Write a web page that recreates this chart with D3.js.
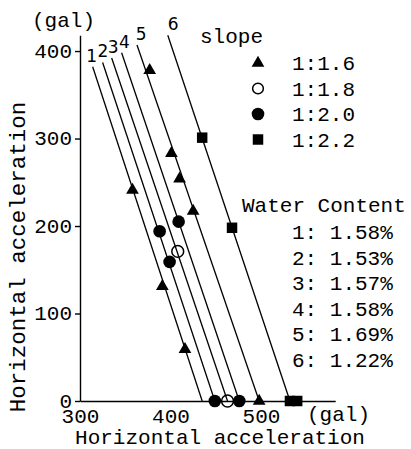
<!DOCTYPE html>
<html>
<head>
<meta charset="utf-8">
<script src="https://cdn.jsdelivr.net/npm/d3@7"></script>
<style>
    body { margin: 0; background: #fff; }
    text { font-family: "Liberation Mono", "Courier New", monospace; fill: #000; }
</style>
</head>
<body>
<div id="chartDiv"></div>
<script>

// line number -> top end of each line [x, y] and x where it meets the axis (gal)
var lineNames = ["1", "2", "3", "4", "5", "6"];
var lineTops = [[314, 382], [325, 387], [335, 392], [346, 398], [363, 407], [397, 418]];
var lineBases = [435, 449, 463, 476, 498, 532];

// slope series, points [x, y] in gal
var slopeNames = ["1:1.6", "1:1.8", "1:2.0", "1:2.2"];
var slope16 = [[358, 241], [391, 131], [416, 59], [377, 378], [401, 283], [410, 254], [425, 217], [498, 0]];
var slope18 = [[408, 171], [463, 0]];
var slope20 = [[388, 194], [399, 159], [449, 0], [409, 205], [476, 0]];
var slope22 = [[435, 301], [468, 198], [532, 0], [540, 0]];

var waterContent = ["1.58%", "1.53%", "1.57%", "1.58%", "1.69%", "1.22%"];

var xTicks = [300, 400, 500];
var yTicks = [0, 100, 200, 300, 400];

var width = 411,
    height = 449;

var svg = d3.select("#chartDiv").append("svg")
    .attr("width", width)
    .attr("height", height);

var x = d3.scaleLinear()
    .domain([300, 582])
    .range([80, 335.2]);

var y = d3.scaleLinear()
    .domain([0, 418])
    .range([401, 35.3]);

var xAxis = d3.axisBottom(x)
    .tickValues(xTicks)
    .tickSize(0)
    .tickPadding(7)
    .tickSizeOuter(0);

var yAxis = d3.axisLeft(y)
    .tickValues(yTicks)
    .tickSize(5)
    .tickPadding(3)
    .tickSizeOuter(0);

svg.append("g")
    .attr("class", "x axis")
    .attr("transform", "translate(0," + y(0) + ")")
    .call(xAxis);

svg.append("g")
    .attr("class", "y axis")
    .attr("transform", "translate(" + x(300) + ",0)")
    .call(yAxis);

svg.selectAll(".axis path, .axis line")
    .attr("stroke", "#000")
    .attr("stroke-width", 1.4);

svg.selectAll(".axis text")
    .style("font-family", "Liberation Mono, monospace")
    .style("font-size", "21px")
    .attr("fill", "#000");

svg.selectAll(".y.axis text")
    .attr("dy", "0.3em");

// unit labels
svg.append("text")
    .attr("x", 32)
    .attr("y", 27)
    .style("font-size", "21px")
    .text("(gal)");

svg.append("text")
    .attr("x", 307)
    .attr("y", 421)
    .style("font-size", "21px")
    .text("(gal)");

// axis titles
svg.append("text")
    .attr("x", 220)
    .attr("y", 444)
    .attr("text-anchor", "middle")
    .style("font-size", "21px")
    .text("Horizontal acceleration");

svg.append("text")
    .attr("transform", "translate(25,257) rotate(-90)")
    .attr("text-anchor", "middle")
    .style("font-size", "22.5px")
    .text("Horizontal acceleration");

// lines
svg.selectAll(".wline")
    .data(lineTops)
    .enter().append("line")
    .attr("class", "wline")
    .attr("x1", function (d) {
        return x(d[0]);
    })
    .attr("y1", function (d) {
        return y(d[1]);
    })
    .attr("x2", function (d, i) {
        return x(lineBases[i]);
    })
    .attr("y2", y(0))
    .attr("stroke", "#000")
    .attr("stroke-width", 1.3);

svg.selectAll(".wlabel")
    .data(lineTops)
    .enter().append("text")
    .attr("class", "wlabel")
    .attr("x", function (d, i) {
        return x(d[0]) + i * 1.3 - 1;
    })
    .attr("y", function (d) {
        return y(d[1]) - 5;
    })
    .attr("text-anchor", "middle")
    .style("font-family", "DejaVu Sans, sans-serif")
    .style("font-size", "17px")
    .text(function (d, i) {
        return lineNames[i];
    });

// markers
var symbols = [
    { type: d3.symbolTriangle, size: 70, fill: "#000", stroke: "none" },
    { type: d3.symbolCircle, size: 110, fill: "none", stroke: "#000" },
    { type: d3.symbolCircle, size: 125, fill: "#000", stroke: "none" },
    { type: d3.symbolSquare, size: 110, fill: "#000", stroke: "none" }
];

var series = [slope16, slope18, slope20, slope22];

series.forEach(function (pts, k) {
    var s = symbols[k];
    svg.selectAll(".pt" + k)
        .data(pts)
        .enter().append("path")
        .attr("class", "pt" + k)
        .attr("d", d3.symbol().type(s.type).size(s.size))
        .attr("transform", function (d) {
            return "translate(" + x(d[0]) + "," + y(d[1]) + ")";
        })
        .attr("fill", s.fill)
        .attr("stroke", s.stroke)
        .attr("stroke-width", 1.5);
});

// slope legend
svg.append("text")
    .attr("x", 200)
    .attr("y", 43)
    .style("font-size", "21px")
    .text("slope");

var legend = svg.selectAll(".legend")
    .data(slopeNames)
    .enter().append("g")
    .attr("class", "legend")
    .attr("transform", function (d, i) {
        return "translate(258," + (63 + i * 25.5) + ")";
    });

legend.append("path")
    .attr("d", function (d, i) {
        return d3.symbol().type(symbols[i].type).size(i == 1 ? 90 : symbols[i].size)();
    })
    .attr("fill", function (d, i) {
        return symbols[i].fill;
    })
    .attr("stroke", function (d, i) {
        return symbols[i].stroke;
    })
    .attr("stroke-width", 1.5);

legend.append("text")
    .attr("x", 34)
    .attr("y", 7)
    .style("font-size", "21px")
    .text(function (d) {
        return d;
    });

// water content legend
svg.append("text")
    .attr("x", 242)
    .attr("y", 212)
    .style("font-size", "21px")
    .text("Water Content");

svg.selectAll(".wc")
    .data(waterContent)
    .enter().append("text")
    .attr("class", "wc")
    .attr("x", 292)
    .attr("y", function (d, i) {
        return 239 + i * 25.5;
    })
    .style("font-size", "21px")
    .attr("xml:space", "preserve")
    .text(function (d, i) {
        return lineNames[i] + ": " + d;
    });

</script>
</body>
</html>
